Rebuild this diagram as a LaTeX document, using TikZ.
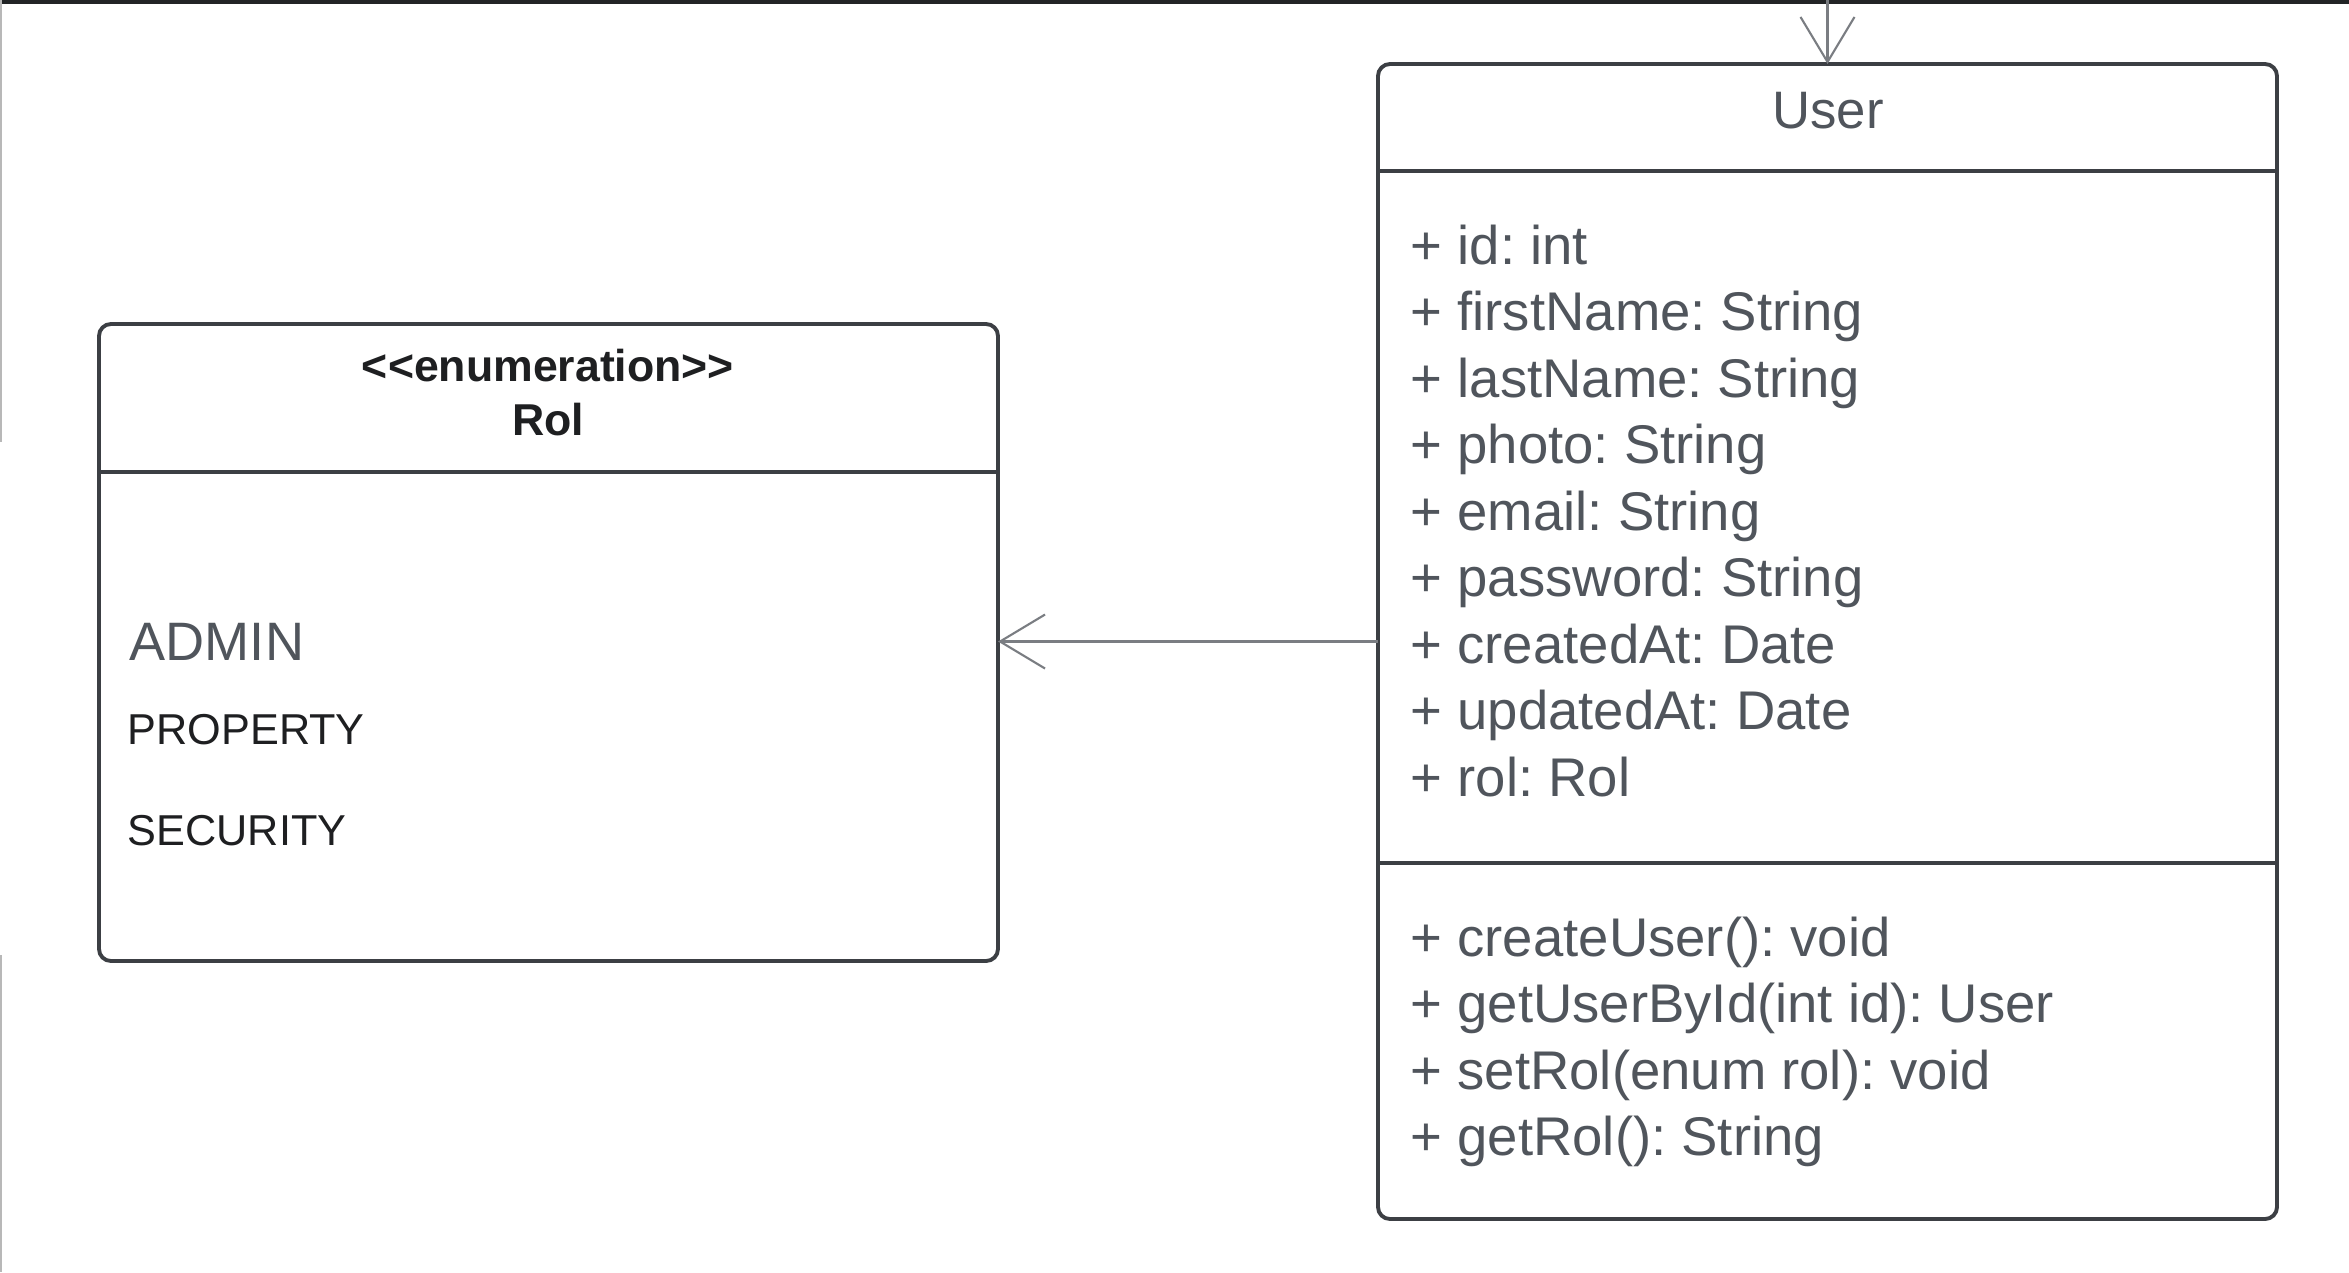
\documentclass[tikz,border=0pt]{standalone}
\usepackage{fontspec}
\setmainfont{Liberation Sans}
\frenchspacing
\usetikzlibrary{positioning, arrows.meta, calc}
\definecolor{borderDark}{HTML}{3C3F44}
\definecolor{frameDark}{HTML}{222426}
\definecolor{frameLight}{HTML}{B8B8B8}
\definecolor{arrowGray}{HTML}{7A7D82}
\definecolor{textGray}{HTML}{50555C}
\definecolor{textDark}{HTML}{1E1F21}
\tikzset{
  classbox/.style={draw=borderDark, fill=white, rounded corners=3.4pt,
    line width=1.1pt, minimum width=8.99cm, inner sep=0pt, outer sep=0pt},
  sepline/.style={draw=borderDark, line width=1.1pt},
  assoc/.style={-{Straight Barb[length=0.45cm, width=0.54cm]}, line width=0.6pt, color=arrowGray},
  stereo/.style={font=\fontsize{12.7}{15}\selectfont\bfseries, text=textDark, inner sep=0pt},
  classname/.style={font=\fontsize{15}{18}\selectfont, text=textGray, inner sep=0pt},
  member/.style={font=\fontsize{15.5}{18.9}\selectfont, text=textGray, anchor=base west, inner sep=0pt},
  literal/.style={font=\fontsize{12.3}{15}\selectfont, text=textDark, anchor=west, inner sep=0pt},
}
\begin{document}
\begin{tikzpicture}

  % === page and screenshot frame ===
  \fill[white] (0,0) rectangle (23.49,-12.72);
  \useasboundingbox (0,0) rectangle (23.49,-12.72);
  \fill[frameDark] (0,0) rectangle (23.49,-0.035);
  \fill[frameLight] (0,0) rectangle (0.025,-4.42);
  \fill[frameLight] (0,-9.55) rectangle (0.025,-12.72);

  % === Rol enumeration ===
  \node[classbox, minimum height=6.37cm] (rol) at (5.485,-6.425) {};
  \draw[sepline] ($(rol.north west)+(0,-1.48)$) -- ($(rol.north east)+(0,-1.48)$);
  \node[stereo] (rolStereo) at (5.48,-3.66) {{<}{<}enumeration{>}{>}};
  \node[stereo] (rolName) at (5.48,-4.20) {Rol};
  \node[literal, font=\fontsize{15.4}{18}\selectfont, text=textGray] (litAdmin) at (1.29,-6.42) {ADMIN};
  \node[literal] (litProperty) at (1.27,-7.30) {PROPERTY};
  \node[literal] (litSecurity) at (1.27,-8.31) {SECURITY};

  % === User class ===
  \node[classbox, minimum height=11.55cm] (user) at (18.275,-6.415) {};
  \draw[sepline] ($(user.north west)+(0,-1.07)$) -- ($(user.north east)+(0,-1.07)$);
  \draw[sepline] ($(user.north west)+(0,-7.99)$) -- ($(user.north east)+(0,-7.99)$);
  \node[classname] (userName) at (18.28,-1.11) {User};

  % attributes
  \node[member] (attr1) at (14.10,-2.64) {+ id: int};
  \node[member] (attr2) at ([yshift=-0.665cm]attr1.base west) {+ firstName: String};
  \node[member] (attr3) at ([yshift=-0.665cm]attr2.base west) {+ lastName: String};
  \node[member] (attr4) at ([yshift=-0.665cm]attr3.base west) {+ photo: String};
  \node[member] (attr5) at ([yshift=-0.665cm]attr4.base west) {+ email: String};
  \node[member] (attr6) at ([yshift=-0.665cm]attr5.base west) {+ password: String};
  \node[member] (attr7) at ([yshift=-0.665cm]attr6.base west) {+ createdAt: Date};
  \node[member] (attr8) at ([yshift=-0.665cm]attr7.base west) {+ updatedAt: Date};
  \node[member] (attr9) at ([yshift=-0.665cm]attr8.base west) {+ rol: Rol};

  % methods
  \node[member] (meth1) at (14.10,-9.56) {+ createUser(): void};
  \node[member] (meth2) at ([yshift=-0.665cm]meth1.base west) {+ getUserById(int id): User};
  \node[member] (meth3) at ([yshift=-0.665cm]meth2.base west) {+ setRol(enum rol): void};
  \node[member] (meth4) at ([yshift=-0.665cm]meth3.base west) {+ getRol(): String};

  % === connectors ===
  \coordinate (topIn) at (18.275,0);
  \draw[assoc] (topIn) -- (user.north);
  \draw[assoc] (user.west) -- (user.west -| rol.east);

\end{tikzpicture}
\end{document}
